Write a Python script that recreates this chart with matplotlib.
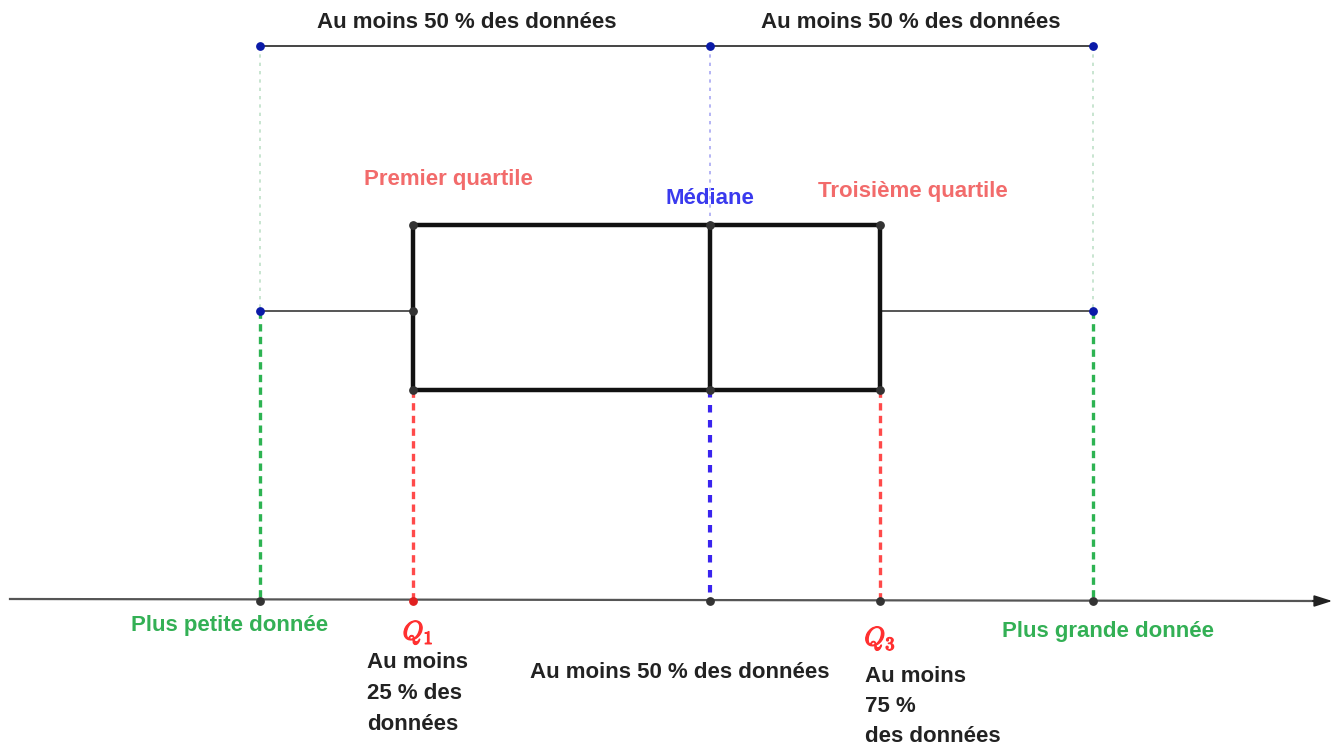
import matplotlib
matplotlib.use("Agg")
import matplotlib.pyplot as plt
import matplotlib.patheffects as pe

plt.rcParams['font.family'] = ['Liberation Sans', 'DejaVu Sans']
plt.rcParams['mathtext.fontset'] = 'cm'

# Five-number summary (positions on the number line, arbitrary units)
minimum = 260
q1 = 413
median = 710
q3 = 880
maximum = 1093

# Vertical levels of the schematic
axis_y = 600
box_top = 225
box_bottom = 390
whisker_y = 311
bracket_y = 46

top_labels = ["Au moins 50 % des données", "Au moins 50 % des données"]

GREEN = '#2db352'
RED = '#ff4a4a'
SALMON = '#f26b6b'
BLUE = '#3a24ee'
DOT_BLUE = '#0a1aa8'
TXT = '#222222'

fig = plt.figure(figsize=(13.35, 7.46), dpi=100)
ax = fig.add_axes([0, 0, 1, 1])
ax.set_xlim(0, 1335)
ax.set_ylim(746, 0)
ax.axis('off')

# number line with arrow
ax.plot([10, 1318], [axis_y - 1, axis_y + 1], color='#555555', lw=1.6, zorder=2)
ax.annotate('', xy=(1335, axis_y + 1), xytext=(1310, axis_y + 1),
            arrowprops=dict(arrowstyle='-|>,head_length=1.1,head_width=0.35',
                            color='#222222', lw=1.2))

# top bracket
ax.plot([minimum, maximum], [bracket_y, bracket_y], color='#444444', lw=1.4, zorder=2)
ax.scatter([minimum, median, maximum], [bracket_y] * 3, s=28, color=DOT_BLUE, zorder=5)

# light dotted guides from the top bracket
ax.plot([minimum, minimum], [bracket_y, whisker_y], color='#bfe0c8', lw=1.2,
        ls=(0, (2, 3)), zorder=1)
ax.plot([maximum, maximum], [bracket_y, whisker_y], color='#bfe0c8', lw=1.2,
        ls=(0, (2, 3)), zorder=1)
ax.plot([median, median], [bracket_y, box_top], color='#a8a8f2', lw=1.2,
        ls=(0, (2, 3)), zorder=1)

# box
ax.plot([q1, q3, q3, q1, q1], [box_top, box_top, box_bottom, box_bottom, box_top],
        color='#111111', lw=3.2, solid_joinstyle='miter', zorder=3)
ax.plot([median, median], [box_top, box_bottom], color='#111111', lw=3.2, zorder=3)

# whiskers
ax.plot([minimum, q1], [whisker_y, whisker_y], color='#555555', lw=1.4, zorder=2)
ax.plot([q3, maximum], [whisker_y, whisker_y], color='#555555', lw=1.4, zorder=2)

# dashed projections onto the number line
dash = (0, (2.2, 1.6))
ax.plot([minimum, minimum], [whisker_y, axis_y], color=GREEN, lw=2.4, ls=dash, zorder=1)
ax.plot([maximum, maximum], [whisker_y, axis_y], color=GREEN, lw=2.4, ls=dash, zorder=1)
ax.plot([q1, q1], [box_bottom, axis_y], color=RED, lw=2.4, ls=dash, zorder=1)
ax.plot([q3, q3], [box_bottom, axis_y], color=RED, lw=2.4, ls=dash, zorder=1)
ax.plot([median, median], [box_bottom, axis_y], color=BLUE, lw=3.0,
        ls=(0, (1.8, 1.8)), zorder=1)

# points
ax.scatter([q1, median, q3, q1, median, q3, q1],
           [box_top, box_top, box_top, box_bottom, box_bottom, box_bottom, whisker_y],
           s=28, color='#333333', zorder=6)
ax.scatter([minimum, maximum], [whisker_y, whisker_y], s=28, color=DOT_BLUE, zorder=6)
ax.scatter([minimum, median, q3, maximum], [axis_y + 1] * 4, s=28, color='#333333', zorder=6)
ax.scatter([q1], [axis_y + 1], s=28, color='#e02020', zorder=6)

fs = 16
# top labels
ax.text(467, 22, top_labels[0], ha='center', va='center',
        fontsize=fs, fontweight='bold', color=TXT)
ax.text(911, 22, top_labels[1], ha='center', va='center',
        fontsize=fs, fontweight='bold', color=TXT)

# names
ax.text(448, 179, "Premier quartile", ha='center', va='center', fontsize=fs,
        fontweight='bold', color=SALMON)
ax.text(median, 199, "Médiane", ha='center', va='center', fontsize=fs,
        fontweight='bold', color='#3a3aee')
ax.text(913, 192, "Troisième quartile", ha='center', va='center', fontsize=fs,
        fontweight='bold', color=SALMON)

ax.text(230, 625, "Plus petite donnée", ha='center', va='center', fontsize=fs,
        fontweight='bold', color='#33b055')
ax.text(1108, 632, "Plus grande donnée", ha='center', va='center', fontsize=fs,
        fontweight='bold', color='#33b055')

bold_fx = [pe.withStroke(linewidth=0.9, foreground='#ff3030')]
ax.text(418, 632, r"$Q_1$", ha='center', va='center', fontsize=19,
        color='#ff3030', path_effects=bold_fx)
ax.text(880, 638, r"$Q_3$", ha='center', va='center', fontsize=19,
        color='#ff3030', path_effects=bold_fx)

# bottom texts
for i, line in enumerate(["Au moins", "25 % des", "données"]):
    ax.text(367, 663 + 30.5 * i, line, ha='left', va='center', fontsize=fs,
            fontweight='bold', color=TXT)
ax.text(680, 673, "Au moins 50 % des données", ha='center', va='center',
        fontsize=fs, fontweight='bold', color=TXT)
for i, line in enumerate(["Au moins", "75 %", "des données"]):
    ax.text(865, 676 + 30.5 * i, line, ha='left', va='center', fontsize=fs,
            fontweight='bold', color=TXT)

fig.savefig("out.png", dpi=100)
